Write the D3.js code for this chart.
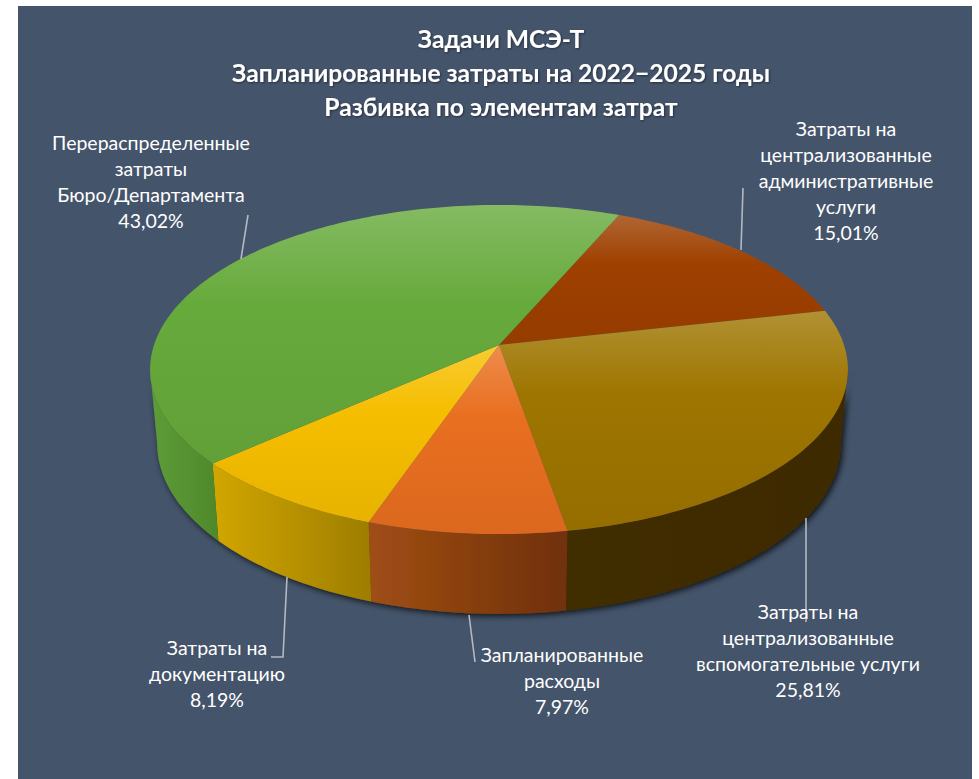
<!DOCTYPE html>
<html>
<head>
<meta charset="utf-8">
<script src="https://cdn.jsdelivr.net/npm/d3@7"></script>
<style>
  html, body { margin: 0; padding: 0; background: #fff; }
  svg { display: block; }
  text { font-family: Lato, "Open Sans", sans-serif; fill: #fff; text-anchor: middle; }
</style>
</head>
<body>
<script>
const titleLines = ["Задачи МСЭ-Т", "Запланированные затраты на 2022−2025 годы", "Разбивка по элементам затрат"];

const categories = [
  ["Затраты на", "централизованные", "административные", "услуги"],
  ["Затраты на", "централизованные", "вспомогательные услуги"],
  ["Запланированные", "расходы"],
  ["Затраты на", "документацию"],
  ["Перераспределенные", "затраты", "Бюро/Департамента"]
];
const values = [15.01, 25.81, 7.97, 8.19, 43.02];
const topColors = ["#9e4000", "#9e7500", "#e96f20", "#f6be00", "#67aa3c"];
const wallLeft = ["#7a3000", "#402d00", "#a04e14", "#d2a600", "#5e9c38"];
const wallRight = ["#7a3000", "#3e2b00", "#703008", "#9e7e00", "#508a2c"];

const width = 979, height = 779;
const fmt = d => d.toFixed(2).replace(".", ",") + "%";

const svg = d3.select("body").append("svg").attr("width", width).attr("height", height);
const defs = svg.append("defs");

svg.append("rect").attr("x", 18).attr("y", 6).attr("width", 954).attr("height", 773).attr("fill", "#44546a");

// slight perspective: near side of the disc is drawn larger
const cx = 499, k = 0.149;
function project(a, rx, ry, y0) {
  const u = Math.sin(a), v = -Math.cos(a), w = 1 - k * v;
  return [cx + rx * u / w, y0 + ry * v / w];
}
const topRim = a => project(a, 345, 160.9, 345);
const lowRim = a => project(a, 338, 166.7, 418);

const start = 23.3 * Math.PI / 180;
const arcs = d3.pie().sort(null).startAngle(start).endAngle(start + 2 * Math.PI)(values);
const line = d3.line();

function sweep(a0, a1) {
  const n = Math.max(4, Math.ceil((a1 - a0) / 0.02));
  return d3.range(n + 1).map(i => a0 + (a1 - a0) * i / n);
}
// wall is only seen between the two points where the rim is widest
const frontFrom = Math.acos(-k), frontTo = 2 * Math.PI - frontFrom;
const wallFrom = d => Math.max(d.startAngle, frontFrom);
const wallTo = d => Math.min(d.endAngle, frontTo);
const frontArcs = arcs.filter(d => wallTo(d) > wallFrom(d));

defs.append("filter").attr("id", "pieShadow").attr("x", "-10%").attr("y", "-10%").attr("width", "120%").attr("height", "120%")
  .append("feDropShadow").attr("dx", 2).attr("dy", 2).attr("stdDeviation", 3)
  .attr("flood-color", "#000").attr("flood-opacity", 0.8);
defs.append("filter").attr("id", "titleShadow").attr("x", "-5%").attr("y", "-20%").attr("width", "110%").attr("height", "140%")
  .append("feDropShadow").attr("dx", 1).attr("dy", 1).attr("stdDeviation", 1)
  .attr("flood-color", "#000").attr("flood-opacity", 0.45);

arcs.forEach((d, i) => {
  const top = defs.append("linearGradient").attr("id", "top" + i).attr("x1", 0).attr("y1", 0).attr("x2", 0).attr("y2", 1);
  top.append("stop").attr("offset", 0).attr("stop-color", d3.interpolateRgb(topColors[i], "#fff")(0.2));
  top.append("stop").attr("offset", 0.38).attr("stop-color", topColors[i]);
  top.append("stop").attr("offset", 1).attr("stop-color", d3.interpolateRgb(topColors[i], "#000")(0.06));
});
frontArcs.forEach(d => {
  const i = d.index;
  const xs = sweep(wallFrom(d), wallTo(d)).map(a => topRim(a)[0]);
  const wall = defs.append("linearGradient").attr("id", "wall" + i).attr("gradientUnits", "userSpaceOnUse")
    .attr("x1", d3.min(xs)).attr("y1", 0).attr("x2", d3.max(xs)).attr("y2", 0);
  wall.append("stop").attr("offset", 0).attr("stop-color", wallLeft[i]);
  wall.append("stop").attr("offset", 1).attr("stop-color", wallRight[i]);
});

const walls = svg.append("g").attr("filter", "url(#pieShadow)");
walls.selectAll("path").data(frontArcs).enter().append("path")
  .attr("fill", d => `url(#wall${d.index})`)
  .attr("d", d => {
    const as = sweep(wallFrom(d), wallTo(d));
    return line(as.map(topRim).concat(as.slice().reverse().map(lowRim))) + "Z";
  });

svg.append("g").selectAll("path").data(arcs).enter().append("path")
  .attr("fill", (d, i) => `url(#top${i})`)
  .attr("d", d => line([[cx, 345]].concat(sweep(d.startAngle, d.endAngle).map(topRim))) + "Z");

// title
svg.append("g").attr("filter", "url(#titleShadow)").selectAll("text").data(titleLines).enter().append("text")
  .attr("x", 501)
  .attr("y", (d, i) => 48 + i * 34)
  .attr("font-size", 24.6)
  .attr("font-weight", 700)
  .text(d => d);

// leader lines and label blocks, same order as values
const leaders = [
  [[741, 250], [743, 188]],
  [[806, 518], [806, 622]],
  [[469, 615], [475, 662]],
  [[287, 577], [283, 657], [271, 657]],
  [[241, 259], [248, 215]]
];
const labelX = [846, 808, 562, 217, 151];
const labelY = [130, 613, 656, 649, 144];

svg.append("g").selectAll("path").data(leaders).enter().append("path")
  .attr("d", d => line(d))
  .attr("fill", "none")
  .attr("stroke", "#b4b9c2")
  .attr("stroke-width", 1.6);

const labels = svg.append("g").selectAll("text").data(categories).enter().append("text")
  .attr("font-size", 19.5);
labels.each(function (lines, i) {
  const all = lines.concat(fmt(values[i]));
  d3.select(this).selectAll("tspan").data(all).enter().append("tspan")
    .attr("x", labelX[i])
    .attr("y", (t, j) => labelY[i] + 6 + j * 26)
    .text(t => t);
});
</script>
</body>
</html>
